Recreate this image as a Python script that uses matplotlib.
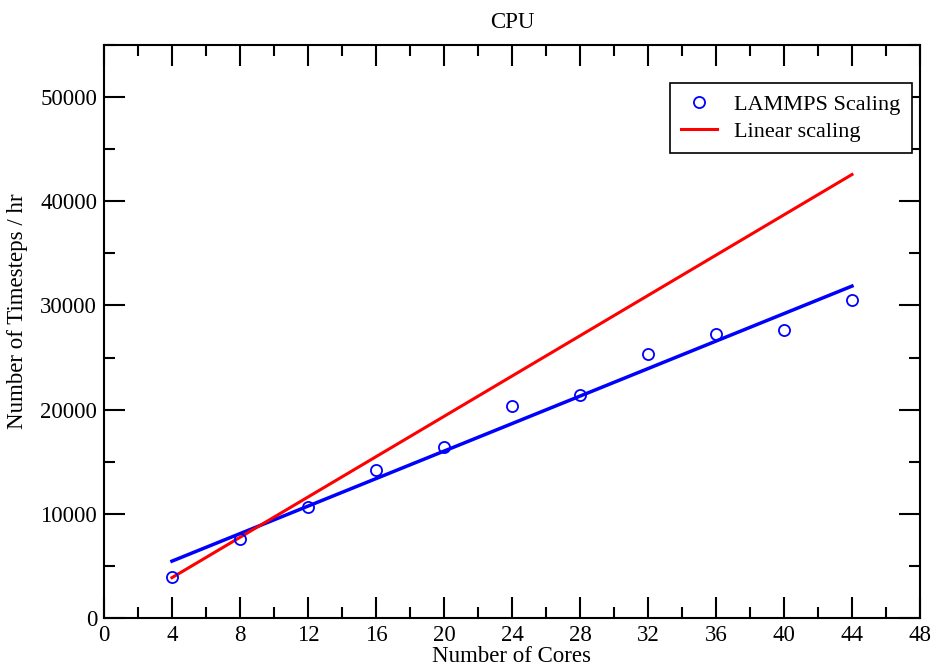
import numpy as np
import matplotlib
matplotlib.use('Agg')
import matplotlib.pyplot as plt
from matplotlib.ticker import MultipleLocator

plt.rcParams['font.family'] = ['Liberation Serif', 'DejaVu Serif']

cores = [4, 8, 12, 16, 20, 24, 28, 32, 36, 40, 44]
timesteps = [3900, 7580, 10650, 14200, 16400, 20350, 21400, 25340, 27250, 27640, 30520]
linear_x = [4, 44]
linear_y = [3870, 42570]

fig = plt.figure(figsize=(9.34, 6.66), dpi=100)
ax = fig.add_axes([0.1113, 0.0721, 0.8737, 0.8603])

# least-squares fit through the measured points
slope, icpt = np.polyfit(cores, timesteps, 1)
fit_x = np.array([cores[0], cores[-1]])
ax.plot(fit_x, slope * fit_x + icpt, color='#0000ff', lw=2.5, zorder=2)
ax.plot(linear_x, linear_y, color='#ff0000', lw=2.2, label='Linear scaling', zorder=3)
ax.plot(cores, timesteps, 'o', ms=8, mfc='none', mec='#0000ff', mew=1.3,
        label='LAMMPS Scaling', zorder=4)

ax.set_xlim(0, 48)
ax.set_ylim(0, 55000)
ax.xaxis.set_major_locator(MultipleLocator(4))
ax.xaxis.set_minor_locator(MultipleLocator(2))
ax.yaxis.set_major_locator(MultipleLocator(10000))
ax.yaxis.set_minor_locator(MultipleLocator(5000))
ax.tick_params(which='both', direction='in', top=True, right=True, width=1.5, labelsize=16.5)
ax.tick_params(which='major', length=15, pad=5)
ax.tick_params(which='minor', length=8)
for s in ax.spines.values():
    s.set_linewidth(1.5)

ax.set_xlabel('Number of Cores', fontsize=16.5, labelpad=0)
ax.set_ylabel('Number of Timesteps / hr', fontsize=16.5)
ax.yaxis.set_label_coords(-0.093, 0.536)
ax.set_title('CPU', fontsize=16.5, pad=12)

h, l = ax.get_legend_handles_labels()
leg = ax.legend(h[::-1], l[::-1], loc='upper right', bbox_to_anchor=(0.99, 0.934),
                fontsize=16, fancybox=False, framealpha=1, edgecolor='black',
                borderpad=0.5, handlelength=1.6, labelspacing=0.3, borderaxespad=0)
leg.get_frame().set_linewidth(1.2)

fig.savefig('out.png', dpi=100)
